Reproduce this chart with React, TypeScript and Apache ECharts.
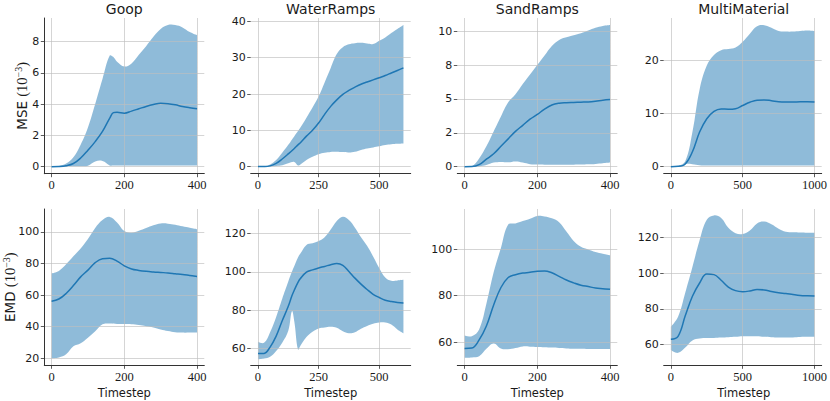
import React, { useEffect, useRef } from "react";
import * as echarts from "echarts";

// ---------- Data ----------
const titles = ["Goop", "WaterRamps", "SandRamps", "MultiMaterial"];

// Goop MSE (10^-3)
const goopMseT = [0, 20, 40, 60, 80, 100, 120, 140, 160, 170, 180, 200, 220, 240, 260, 280, 300, 320, 340, 360, 380, 400];
const goopMseMed = [0, 0.01, 0.06, 0.2, 0.55, 1.05, 1.6, 2.25, 3.1, 3.45, 3.48, 3.42, 3.55, 3.7, 3.85, 3.97, 4.05, 4.02, 3.95, 3.85, 3.77, 3.7];
const goopMseLo = [0, 0, 0.01, 0.02, 0.03, 0.06, 0.33, 0.36, 0.08, 0.07, 0.07, 0.07, 0.07, 0.07, 0.07, 0.07, 0.07, 0.07, 0.07, 0.07, 0.07, 0.07];
const goopMseHi = [0, 0.05, 0.2, 0.6, 1.4, 2.5, 4.0, 5.6, 7.1, 7.0, 6.7, 6.4, 6.6, 7.15, 7.7, 8.3, 8.8, 9.05, 9.05, 8.9, 8.6, 8.4];

// WaterRamps MSE
const waterMseT = [0, 25, 50, 75, 100, 125, 150, 165, 175, 200, 225, 250, 275, 300, 325, 350, 375, 400, 425, 450, 475, 500, 525, 550, 575, 600];
const waterMseMed = [0, 0.02, 0.2, 0.9, 2.1, 3.5, 5.0, 6.0, 6.6, 8.4, 10.0, 12.0, 14.4, 16.6, 18.4, 19.9, 21.0, 21.9, 22.7, 23.3, 23.9, 24.5, 25.1, 25.8, 26.5, 27.2];
const waterMseLo = [0, 0, 0.05, 0.2, 0.4, 0.9, 1.3, 0.3, 0.6, 1.8, 2.7, 3.4, 3.8, 4.05, 4.1, 4.0, 3.9, 4.1, 4.6, 5.0, 5.3, 5.6, 5.95, 6.15, 6.3, 6.4];
const waterMseHi = [0, 0.1, 0.6, 1.8, 3.8, 6.0, 8.4, 9.8, 10.8, 13.5, 16.3, 19.3, 23.2, 27.2, 31.0, 32.9, 33.7, 34.0, 34.1, 33.9, 33.8, 34.7, 35.6, 36.8, 37.9, 39.0];

// SandRamps MSE
const sandMseT = [0, 20, 40, 60, 80, 100, 120, 140, 160, 180, 200, 220, 240, 260, 280, 300, 320, 340, 360, 380, 400];
const sandMseMed = [0, 0.01, 0.15, 0.55, 0.95, 1.5, 2.05, 2.6, 3.05, 3.5, 3.85, 4.25, 4.55, 4.68, 4.72, 4.74, 4.76, 4.78, 4.83, 4.9, 4.95];
const sandMseLo = [0, 0, 0.02, 0.12, 0.3, 0.35, 0.32, 0.38, 0.3, 0.18, 0.15, 0.14, 0.14, 0.14, 0.14, 0.14, 0.15, 0.17, 0.2, 0.25, 0.3];
const sandMseHi = [0, 0.02, 0.6, 1.5, 2.6, 3.7, 4.75, 5.35, 6.1, 6.8, 7.5, 8.2, 8.9, 9.35, 9.55, 9.7, 9.85, 10.05, 10.25, 10.38, 10.45];

// MultiMaterial MSE
const multiMseT = [0, 50, 100, 150, 200, 250, 300, 350, 400, 450, 500, 550, 600, 650, 700, 750, 800, 850, 900, 950, 1000];
const multiMseMed = [0, 0.05, 0.5, 2.8, 6.5, 9.0, 10.4, 10.85, 10.8, 10.9, 11.5, 12.1, 12.5, 12.55, 12.4, 12.2, 12.15, 12.15, 12.2, 12.2, 12.15];
const multiMseLo = [0, 0, 0.5, 0.45, 0.25, 0.2, 0.2, 0.2, 0.2, 0.2, 0.2, 0.2, 0.2, 0.2, 0.2, 0.2, 0.2, 0.2, 0.2, 0.2, 0.2];
const multiMseHi = [0, 0.1, 1.0, 6.5, 14.5, 19.0, 21.0, 21.9, 22.1, 22.4, 23.5, 25.0, 26.4, 26.6, 26.1, 25.5, 25.4, 25.4, 25.5, 25.6, 25.5];

// Goop EMD (10^-3)
const goopEmdT = [0, 20, 40, 60, 80, 100, 120, 140, 160, 180, 200, 220, 240, 260, 280, 300, 320, 340, 360, 380, 400];
const goopEmdMed = [56, 57.5, 61, 66, 71.5, 75.8, 80.5, 83, 83.3, 81.5, 78.5, 76.5, 75.6, 75.0, 74.6, 74.3, 74.0, 73.5, 73, 72.4, 71.8];
const goopEmdLo = [20, 20.5, 22.5, 27.5, 29.5, 33, 37, 41.5, 42, 41.7, 41.6, 41.5, 41, 40.3, 39.5, 38.2, 37.2, 36.5, 36.2, 36.2, 36.2];
const goopEmdHi = [73.7, 75.3, 79.5, 84.5, 89.5, 95.5, 102.5, 107.5, 109.5, 106, 100.5, 99.5, 100.8, 102.5, 104.2, 105.3, 105.2, 104.5, 103.5, 102.6, 101.7];

// WaterRamps EMD
const waterEmdT = [0, 25, 50, 75, 100, 125, 140, 150, 165, 175, 200, 225, 250, 275, 300, 325, 350, 375, 400, 425, 450, 475, 500, 525, 550, 575, 600];
const waterEmdMed = [57.4, 57.5, 60.8, 66.5, 74.5, 82, 87.5, 90.5, 94.5, 96.5, 99.8, 101, 102, 102.8, 103.7, 104.3, 103.4, 100.2, 96.7, 93.6, 90.8, 88.3, 86.6, 85.2, 84.5, 84, 83.8];
const waterEmdLo = [54.4, 54.8, 55.8, 58.8, 63.1, 69.3, 79.5, 74, 59.5, 61.5, 66, 68.8, 70.5, 71, 71.4, 70.8, 69, 68, 68.5, 70.3, 71.8, 73, 73.6, 73.6, 72.5, 70, 68];
const waterEmdHi = [63.5, 63, 68.5, 76.5, 86, 95, 100, 103, 107.5, 109.5, 114, 114.8, 116, 118, 122, 126.5, 128.7, 127, 123, 118, 113.5, 108, 102, 97, 95.3, 95.5, 95.8];

// SandRamps EMD
const sandEmdT = [0, 20, 40, 60, 80, 100, 120, 140, 160, 180, 200, 220, 240, 260, 280, 300, 320, 340, 360, 380, 400];
const sandEmdMed = [57.3, 57.5, 61, 67, 76, 83.5, 87.8, 89, 89.7, 90, 90.5, 90.6, 89.8, 88.3, 86.7, 85.5, 84.5, 83.9, 83.3, 83, 82.7];
const sandEmdLo = [53.3, 53.5, 54, 57.2, 59.5, 57.3, 57, 57.5, 58.2, 58.1, 58, 57.9, 57.7, 57.5, 57.3, 57.2, 57.2, 57.1, 57.1, 57.1, 57.1];
const sandEmdHi = [62.9, 62.6, 65.5, 76.5, 90, 100.5, 110.5, 111, 112, 113, 114.2, 114, 113.2, 111.5, 107.5, 103.5, 101, 99.8, 98.7, 98, 97.3];

// MultiMaterial EMD
const multiEmdT = [0, 50, 100, 150, 200, 250, 300, 350, 400, 450, 500, 550, 600, 650, 700, 750, 800, 850, 900, 950, 1000];
const multiEmdMed = [62.8, 64.5, 76, 87, 94.5, 99.5, 99.2, 96, 92.2, 90.2, 89.6, 90, 90.8, 90.6, 89.7, 89, 88.6, 88, 87.5, 87.3, 87.2];
const multiEmdLo = [56.8, 55.2, 58.2, 62.2, 63.3, 63.5, 63.6, 63.8, 64, 64.2, 64.5, 64.6, 64.5, 64.2, 64, 63.8, 63.8, 63.9, 64.1, 64.2, 64.3];
const multiEmdHi = [69.9, 75.5, 89, 103.5, 118.5, 130, 132.5, 131, 125.5, 122.5, 122, 124, 128, 129, 127.5, 125, 123.3, 123, 122.9, 122.8, 122.8];

// Tick values / labels
const xTicks400 = [0, 200, 400];
const xTicks600 = [0, 250, 500];
const xTicks1000 = [0, 500, 1000];
const goopMseTicks = [0, 2, 4, 6, 8];
const waterMseTicks = [0, 10, 20, 30, 40];
const sandMseTicks = [0, 2.5, 5, 7.5, 10];
const sandMseLabels = ["0", "2", "5", "8", "10"];
const multiMseTicks = [0, 10, 20];
const goopEmdTicks = [20, 40, 60, 80, 100];
const waterEmdTicks = [60, 80, 100, 120];
const sandEmdTicks = [60, 80, 100];
const multiEmdTicks = [60, 80, 100, 120];

// ---------- Layout ----------
const colLeft = [44.3, 250.7, 457.3, 663.7];
const colWidth = 160;
const rowTop = [18, 209];
const rowHeight = [155.7, 156.3];
const yNameX = [21.5, 9.5];

const panels = [
  { t: goopMseT, med: goopMseMed, lo: goopMseLo, hi: goopMseHi, xr: [-20, 420], xt: xTicks400, yr: [-0.45, 9.5], yt: goopMseTicks },
  { t: waterMseT, med: waterMseMed, lo: waterMseLo, hi: waterMseHi, xr: [-30, 630], xt: xTicks600, yr: [-1.95, 40.95], yt: waterMseTicks },
  { t: sandMseT, med: sandMseMed, lo: sandMseLo, hi: sandMseHi, xr: [-20, 420], xt: xTicks400, yr: [-0.52, 10.97], yt: sandMseTicks, yl: sandMseLabels },
  { t: multiMseT, med: multiMseMed, lo: multiMseLo, hi: multiMseHi, xr: [-50, 1050], xt: xTicks1000, yr: [-1.33, 27.95], yt: multiMseTicks },
  { t: goopEmdT, med: goopEmdMed, lo: goopEmdLo, hi: goopEmdHi, xr: [-20, 420], xt: xTicks400, yr: [15.5, 114.5], yt: goopEmdTicks },
  { t: waterEmdT, med: waterEmdMed, lo: waterEmdLo, hi: waterEmdHi, xr: [-30, 630], xt: xTicks600, yr: [51.3, 132.7], yt: waterEmdTicks },
  { t: sandEmdT, med: sandEmdMed, lo: sandEmdLo, hi: sandEmdHi, xr: [-20, 420], xt: xTicks400, yr: [50.1, 117.2], yt: sandEmdTicks },
  { t: multiEmdT, med: multiEmdMed, lo: multiEmdLo, hi: multiEmdHi, xr: [-50, 1050], xt: xTicks1000, yr: [48.2, 136.1], yt: multiEmdTicks },
];

const BAND = "rgba(31,119,180,0.5)";
const LINE = "#1f77b4";
const GRIDC = "rgba(190,190,190,0.72)";
const SPINE = "#333333";
const TXT = "#1a1a1a";
const SMOOTH = 0.4;

// Smooth path segment through pixel points (same scheme as ECharts line smoothing)
function smoothSegment(pts: number[][], first: boolean): string {
  const n = pts.length;
  let d = (first ? "M" : "L") + pts[0][0].toFixed(2) + "," + pts[0][1].toFixed(2);
  const cpAfter: number[][] = [];
  const cpBefore: number[][] = [];
  for (let i = 0; i < n; i++) {
    if (i === 0 || i === n - 1) {
      cpAfter.push(pts[i]);
      cpBefore.push(pts[i]);
      continue;
    }
    const p = pts[i], a = pts[i - 1], b = pts[i + 1];
    const vx = (b[0] - a[0]) * SMOOTH;
    const vy = (b[1] - a[1]) * SMOOTH;
    const dPrev = Math.hypot(p[0] - a[0], p[1] - a[1]);
    const dNext = Math.hypot(b[0] - p[0], b[1] - p[1]);
    const r = dNext + dPrev > 0 ? dNext / (dNext + dPrev) : 0.5;
    cpAfter.push([p[0] + vx * r, p[1] + vy * r]);
    cpBefore.push([p[0] - vx * (1 - r), p[1] - vy * (1 - r)]);
  }
  for (let i = 1; i < n; i++) {
    const c1 = cpAfter[i - 1], c2 = cpBefore[i], p = pts[i];
    d += "C" + c1[0].toFixed(2) + "," + c1[1].toFixed(2) + " " + c2[0].toFixed(2) + "," + c2[1].toFixed(2) + " " + p[0].toFixed(2) + "," + p[1].toFixed(2);
  }
  return d;
}

function buildOption() {
  const grid: any[] = [];
  const xAxis: any[] = [];
  const yAxis: any[] = [];
  const series: any[] = [];
  const graphic: any[] = [];

  panels.forEach((p: any, i) => {
    const row = Math.floor(i / 4);
    const col = i % 4;
    grid.push({ left: colLeft[col], top: rowTop[row], width: colWidth, height: rowHeight[row], containLabel: false });
    xAxis.push({
      type: "value",
      gridIndex: i,
      min: p.xr[0],
      max: p.xr[1],
      z: 2,
      axisLine: { show: true, onZero: false, lineStyle: { color: SPINE, width: 1 } },
      axisTick: { show: true, customValues: p.xt, length: 3.5, lineStyle: { color: SPINE, width: 0.8 } },
      axisLabel: { customValues: p.xt, fontFamily: "Liberation Serif", fontSize: 12.5, color: TXT, margin: 5, formatter: (v: number) => String(v) },
      splitLine: { show: true, lineStyle: { color: GRIDC, width: 0.9 } },
    });
    yAxis.push({
      type: "value",
      gridIndex: i,
      min: p.yr[0],
      max: p.yr[1],
      z: 2,
      axisLine: { show: col === 0, onZero: false, lineStyle: { color: SPINE, width: 1 } },
      axisTick: { show: true, customValues: p.yt, length: 3.5, lineStyle: { color: SPINE, width: 0.8 } },
      axisLabel: {
        customValues: p.yt,
        fontFamily: "DejaVu Sans",
        fontSize: 11,
        color: TXT,
        margin: 5,
        formatter: (v: number) => {
          if (p.yl) {
            const k = p.yt.indexOf(v);
            if (k >= 0) return p.yl[k];
          }
          return String(v);
        },
      },
      splitLine: { show: true, lineStyle: { color: GRIDC, width: 0.9 } },
    });

    // Min/max band as a custom series (filled between lower and upper)
    series.push({
      type: "custom",
      xAxisIndex: i,
      yAxisIndex: i,
      data: p.t.map((x: number, j: number) => [x, p.lo[j], p.hi[j]]),
      encode: { x: 0, y: [1, 2] },
      silent: true,
      z: 1,
      renderItem: (params: any, api: any) => {
        if (params.dataIndex !== 0) return null;
        const n = p.t.length;
        const top: number[][] = [];
        const bot: number[][] = [];
        for (let k = 0; k < n; k++) top.push(api.coord([p.t[k], p.hi[k]]));
        for (let k = n - 1; k >= 0; k--) bot.push(api.coord([p.t[k], p.lo[k]]));
        const d = smoothSegment(top, true) + smoothSegment(bot, false) + "Z";
        return { type: "path", shape: { pathData: d }, style: { fill: BAND } };
      },
    });
    series.push({
      type: "line",
      xAxisIndex: i,
      yAxisIndex: i,
      data: p.t.map((x: number, j: number) => [x, p.med[j]]),
      symbol: "none",
      smooth: SMOOTH,
      lineStyle: { color: LINE, width: 1.5 },
      silent: true,
      z: 3,
    });
  });

  titles.forEach((t, c) => {
    graphic.push({
      type: "text",
      x: colLeft[c] + colWidth / 2,
      y: 9,
      style: { text: t, fontFamily: "DejaVu Sans", fontSize: 14, fontWeight: "normal", fill: TXT, align: "center", verticalAlign: "middle" },
    });
    graphic.push({
      type: "text",
      x: colLeft[c] + colWidth / 2,
      y: 392.5,
      style: { text: "Timestep", fontFamily: "DejaVu Sans", fontSize: 11.5, fill: TXT, align: "center", verticalAlign: "middle" },
    });
  });

  const yNames = ["MSE", "EMD"];
  yNames.forEach((n, r) => {
    graphic.push({
      type: "text",
      x: yNameX[r],
      y: rowTop[r] + rowHeight[r] / 2,
      rotation: Math.PI / 2,
      style: {
        text: "{s|" + n + " }{m|(10}{e|−3}{m|)}",
        align: "center",
        verticalAlign: "middle",
        fill: TXT,
        rich: {
          s: { fontFamily: "DejaVu Sans", fontSize: 13.5, fill: TXT },
          m: { fontFamily: "Liberation Serif", fontSize: 14.5, fill: TXT },
          e: { fontFamily: "Liberation Serif", fontSize: 10, fill: TXT, padding: [0, 0, 6, 0] },
        },
      },
    });
  });

  return {
    animation: false,
    backgroundColor: "#ffffff",
    grid,
    xAxis,
    yAxis,
    series,
    graphic,
  };
}

export default function App() {
  const ref = useRef<HTMLDivElement>(null);
  useEffect(() => {
    if (!ref.current) return;
    const chart = echarts.init(ref.current, null, { renderer: "svg" });
    chart.setOption(buildOption() as any);
    return () => chart.dispose();
  }, []);
  return <div ref={ref} style={{ position: "absolute", left: 0, top: 0, width: 830, height: 401 }} />;
}
